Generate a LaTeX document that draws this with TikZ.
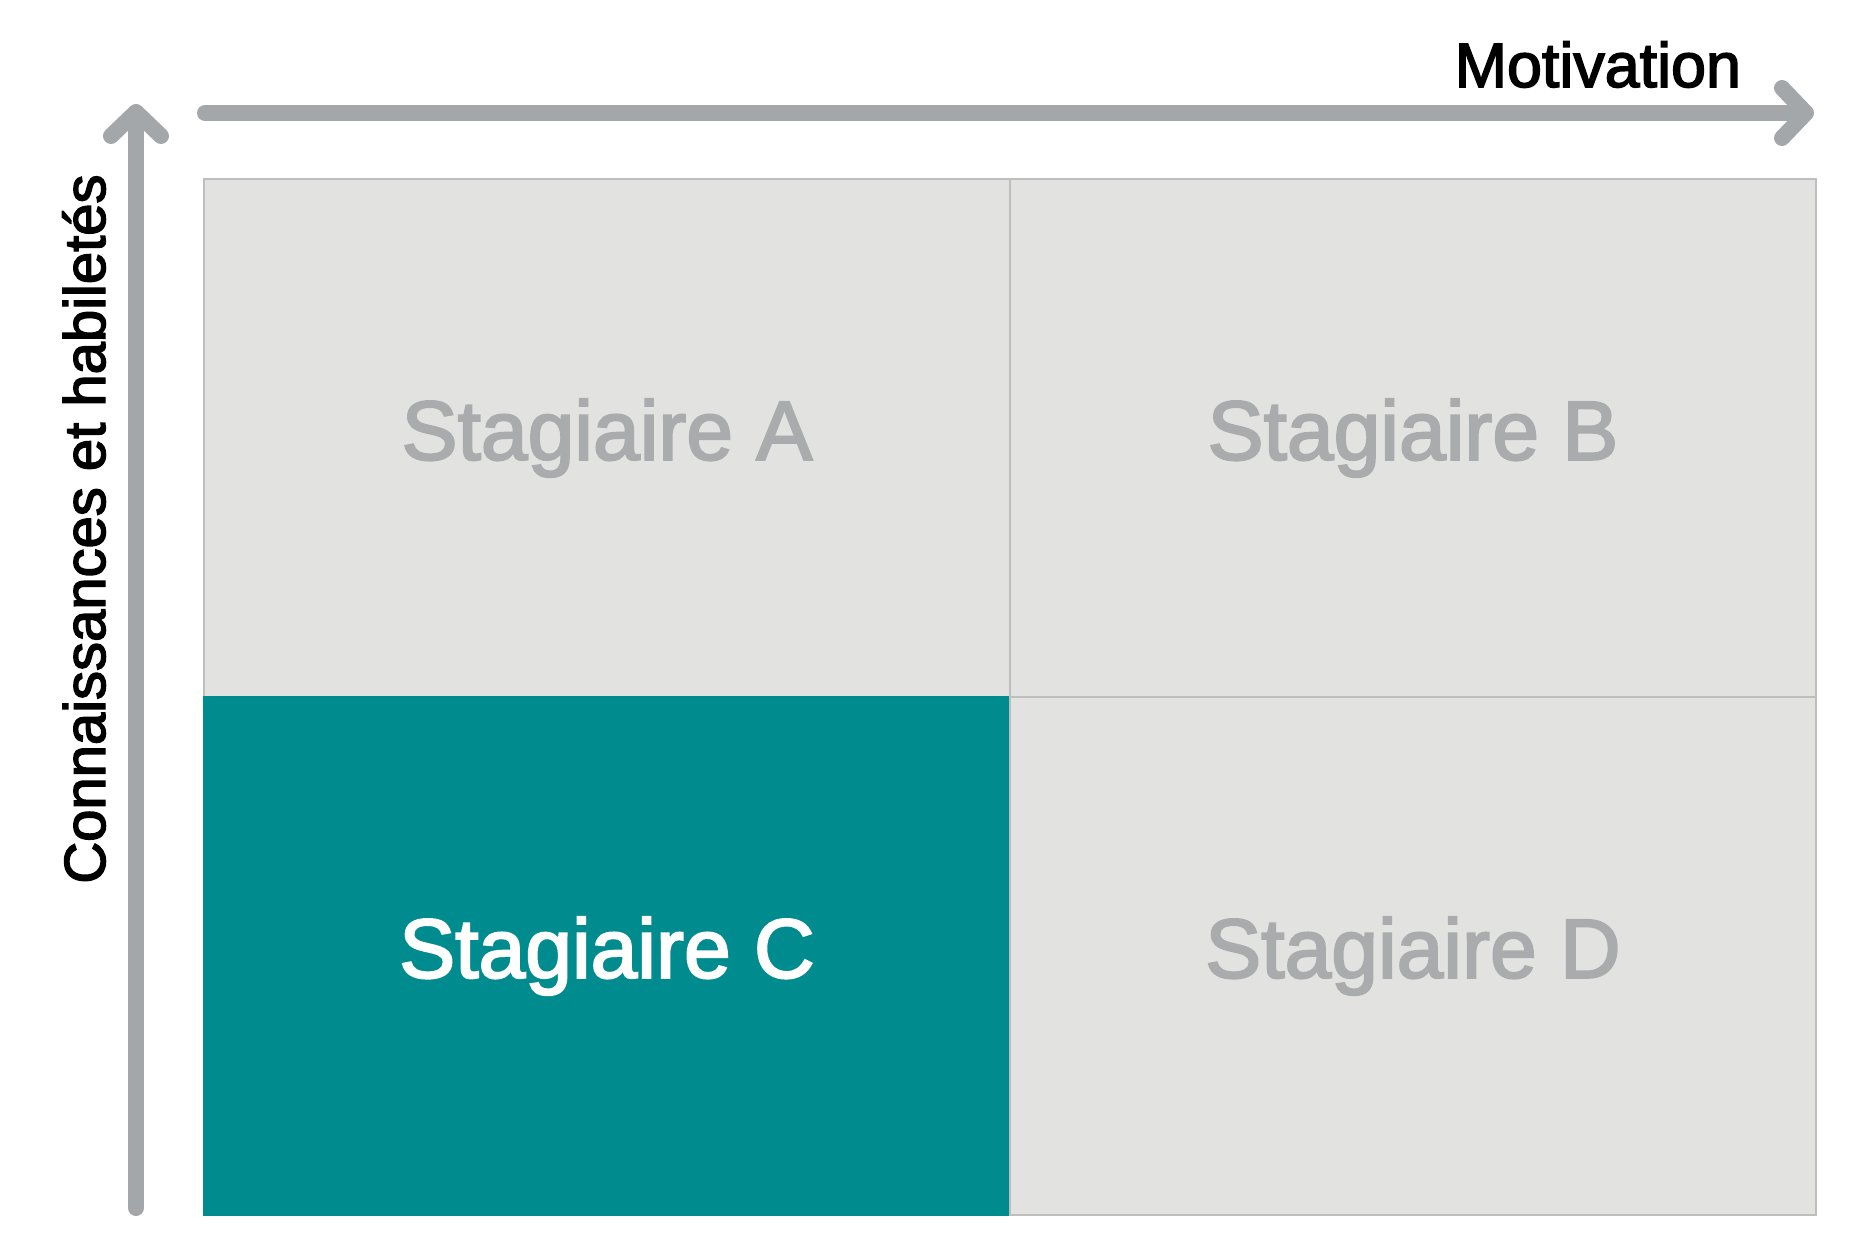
\documentclass[tikz,border=0pt]{standalone}
\usepackage{fontspec}
\setmainfont{Liberation Sans}
\newfontfamily\medfont{Liberation Sans}[FakeBold=2.5]
\usetikzlibrary{positioning,arrows.meta}

\definecolor{axisgray}{RGB}{164,167,170}
\definecolor{cellgray}{RGB}{226,226,225}
\definecolor{cellline}{RGB}{190,190,190}
\definecolor{labelgray}{RGB}{170,171,173}
\definecolor{tealfill}{RGB}{0,140,143}

\tikzset{
    axis/.style={draw=axisgray,line width=8pt,line cap=round,
        -{Straight Barb[length=12pt,width=25pt,round]}},
    cell/.style={draw=cellline,fill=cellgray,line width=0.6pt,outer sep=0pt,
        minimum width=403pt,minimum height=259pt,text=labelgray,
        font=\medfont\fontsize{42}{48}\selectfont},
}

\begin{document}
\begin{tikzpicture}[x=0.5pt,y=-0.5pt]
        \useasboundingbox (0,0) rectangle (1875,1251);
        \node[cell,anchor=north west] (A) at (204,179) {Stagiaire A};
        \node[cell,right=0pt of A] (B) {Stagiaire B};
        \node[cell,below=0pt of A,fill=tealfill,draw=tealfill,text=white] (C) {Stagiaire C};
        \node[cell,below=0pt of B] (D) {Stagiaire D};
        \coordinate (vfrom) at (136,1208);
        \coordinate (vto) at (136,104);
        \coordinate (hfrom) at (205,113);
        \coordinate (hto) at (1814,113);
        \draw[axis] (vfrom) -- (vto);
        \draw[axis] (hfrom) -- (hto);
        \node[anchor=base east,font=\medfont\fontsize{31.4}{36}\selectfont] (mot) at (1748,87) {Motivation};
        \node[anchor=base,rotate=90,font=\medfont\fontsize{29}{34}\selectfont] (con) at (105,529) {Connaissances et habiletés};
    \end{tikzpicture}
\end{document}
